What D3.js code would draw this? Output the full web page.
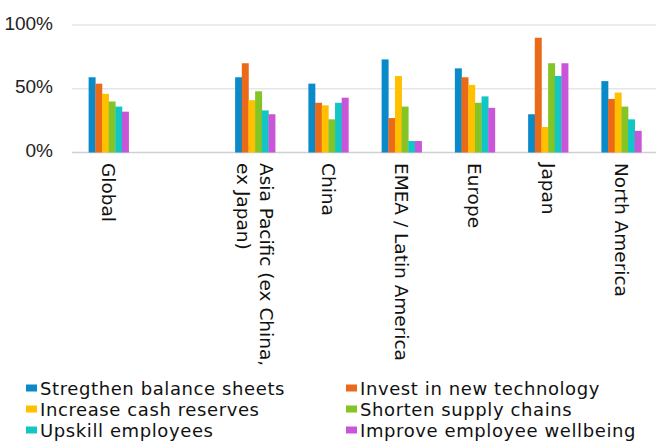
<!DOCTYPE html>
<html>
<head>
<meta charset="utf-8">
<script src="https://cdn.jsdelivr.net/npm/d3@7/dist/d3.min.js"></script>
<style>
	html, body { margin: 0; padding: 0; background: #fff; }
	svg { display: block; }
	.tick-y { font-family: "Liberation Sans", Arial, sans-serif; font-size: 19px; fill: #222; }
	.cat { font-family: "DejaVu Sans", sans-serif; font-size: 18.5px; fill: #111; }
	.legend text { font-family: "DejaVu Sans", sans-serif; font-size: 18px; letter-spacing: 0.6px; fill: #111; }
</style>
</head>
<body>
<svg id="chart" width="656" height="441"></svg>
<script>
// categories (the empty one is a blank column in the source chart)
var categories = ["Global", "", "Asia Pacific (ex China,|ex Japan)", "China", "EMEA / Latin America", "Europe", "Japan", "North America"];
var seriesNames = ["Stregthen balance sheets", "Invest in new technology", "Increase cash reserves", "Shorten supply chains", "Upskill employees", "Improve employee wellbeing"];
var seriesColors = ["#0a8ac8", "#ea6a1a", "#ffc000", "#84c424", "#12c6c6", "#c955d9"];

// values in %, one array per series, in category order
var strengthenBalance = [59, null, 59, 54, 73, 66, 30, 56];
var investTechnology  = [54, null, 70, 39, 27, 59, 90, 42];
var increaseCash      = [46, null, 41, 37, 60, 53, 20, 47];
var shortenSupply     = [40, null, 48, 26, 36, 39, 70, 36];
var upskillEmployees  = [36, null, 33, 39, 9, 44, 60, 26];
var improveWellbeing  = [32, null, 30, 43, 9, 35, 70, 17];

var yTicks = [0, 50, 100];

window.addEventListener("load", function () {
	var series = [strengthenBalance, investTechnology, increaseCash, shortenSupply, upskillEmployees, improveWellbeing];
	var svg = d3.select("#chart");

	var plot = { left: 72, right: 658, top: 25, bottom: 152.5 };

	var x0 = d3.scaleBand()
		.domain(d3.range(categories.length))
		.range([plot.left, plot.right])
		.padding(0);

	// width of one group of bars
	var groupWidth = x0.bandwidth() * 0.546;
	var x1 = d3.scaleBand()
		.domain(d3.range(series.length))
		.range([0, groupWidth]);

	var y = d3.scaleLinear()
		.domain([0, 100])
		.range([plot.bottom, plot.top]);

	// gridlines
	svg.append("g").selectAll("line")
		.data(yTicks)
		.enter().append("line")
		.attr("x1", plot.left)
		.attr("x2", 656)
		.attr("y1", function(d) { return y(d); })
		.attr("y2", function(d) { return y(d); })
		.attr("stroke", function(d) { return d == 0 ? "#cfd0d4" : "#e6e6e6"; })
		.attr("stroke-width", 1.6);

	// y tick labels
	svg.append("g").selectAll("text")
		.data(yTicks)
		.enter().append("text")
		.attr("class", "tick-y")
		.attr("x", 53)
		.attr("y", function(d) { return y(d) - 2; })
		.attr("dy", "0.35em")
		.attr("text-anchor", "end")
		.text(function(d) { return d + "%"; });

	// bars
	var groups = svg.append("g").selectAll("g")
		.data(categories)
		.enter().append("g")
		.attr("transform", function(d, i) {
			return "translate(" + (x0(i) + (x0.bandwidth() - groupWidth) / 2) + ",0)";
		});

	groups.selectAll("rect")
		.data(function(d, i) {
			return series.map(function(s, k) { return { k: k, v: s[i] }; }).filter(function(e) { return e.v != null; });
		})
		.enter().append("rect")
		.attr("x", function(d) { return x1(d.k); })
		.attr("width", x1.bandwidth() + 0.3)
		.attr("y", function(d) { return y(d.v); })
		.attr("height", function(d) { return y(0) - y(d.v); })
		.attr("fill", function(d) { return seriesColors[d.k]; });

	// category labels, rotated to read top to bottom
	var lineHeight = 23;
	svg.append("g").selectAll("text")
		.data(categories)
		.enter().append("text")
		.attr("class", "cat")
		.attr("transform", function(d, i) {
			return "translate(" + (x0(i) + x0.bandwidth() / 2) + ",163) rotate(90)";
		})
		.attr("text-anchor", "start")
		.each(function(d) {
			var lines = d.split("|");
			var el = d3.select(this);
			lines.forEach(function(line, j) {
				el.append("tspan")
					.attr("x", 0)
					.attr("y", (j - (lines.length - 1) / 2) * lineHeight)
					.attr("dy", "0.35em")
					.text(line);
			});
		});

	// legend, two columns
	var legend = svg.append("g").attr("class", "legend");
	var item = legend.selectAll("g")
		.data(seriesNames)
		.enter().append("g")
		.attr("transform", function(d, i) {
			return "translate(" + (i % 2 == 0 ? 26 : 346) + "," + (388 + Math.floor(i / 2) * 21) + ")";
		});
	item.append("rect")
		.attr("x", 0)
		.attr("y", -3.5)
		.attr("width", 11)
		.attr("height", 7)
		.attr("fill", function(d, i) { return seriesColors[i]; });
	item.append("text")
		.attr("x", 14)
		.attr("y", 1)
		.attr("dy", "0.35em")
		.text(function(d) { return d; });
});
</script>
</body>
</html>
